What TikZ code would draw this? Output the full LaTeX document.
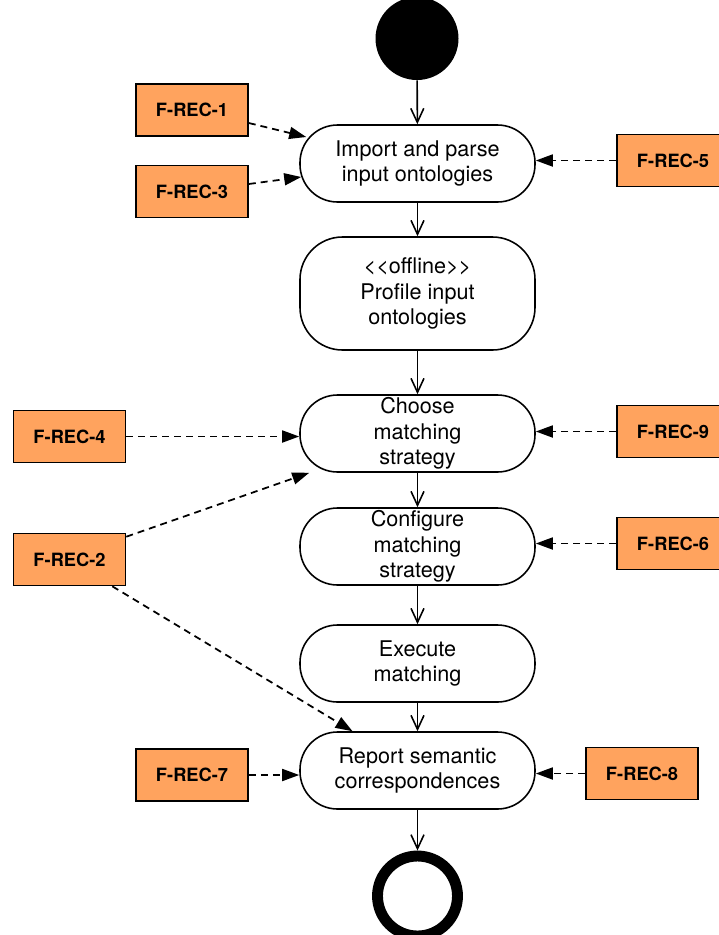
\documentclass[tikz,border=0pt]{standalone}
\usepackage{fontspec}
\setmainfont{TeX Gyre Heros}
\usetikzlibrary{arrows.meta}

\definecolor{reqorange}{RGB}{255,163,94}

\tikzset{
	activity/.style={draw,line width=0.9pt,fill=white,rounded corners=0.75cm,minimum width=4.7cm,minimum height=1.54cm,align=center,inner sep=0pt,font=\fontsize{12.3}{14.4}\selectfont},
	req/.style={draw,line width=0.9pt,fill=reqorange,minimum width=2.24cm,minimum height=1.04cm,inner sep=0pt,font=\fontsize{10.4}{12}\selectfont\bfseries},
	flow/.style={line width=0.9pt,-{Straight Barb[length=2.8mm,width=2.6mm]}},
	trace/.style={line width=1pt,dash pattern=on 1.4mm off 1mm,-{Triangle[length=3.4mm,width=2.4mm]}}
}

\begin{document}
\begin{tikzpicture}
	\useasboundingbox (0,0) rectangle (14.38,-18.7);

	\node [circle,fill=black,minimum size=1.66cm,inner sep=0pt] (start) at (8.34,-0.77) {};
	\node [activity] (a1) at (8.35,-3.27) {Import and parse\\input ontologies};
	\node [activity,minimum height=2.26cm,rounded corners=0.85cm] (a2) at (8.35,-5.87) {{<}{<}offline{>}{>}\\Profile input\\ontologies};
	\node [activity] (a3) at (8.35,-8.67) {Choose\\matching\\strategy};
	\node [activity] (a4) at (8.35,-10.93) {Configure\\matching\\strategy};
	\node [activity] (a5) at (8.35,-13.27) {Execute\\matching};
	\node [activity] (a6) at (8.35,-15.41) {Report semantic\\correspondences};
	\node [circle,draw,line width=6.2pt,minimum size=1.6cm,inner sep=0pt] (stop) at (8.35,-17.92) {};

	\node [req] (r1) at (3.84,-2.20) {F-REC-1};
	\node [req] (r3) at (3.84,-3.83) {F-REC-3};
	\node [req] (r5) at (13.46,-3.21) {F-REC-5};
	\node [req] (r4) at (1.39,-8.73) {F-REC-4};
	\node [req] (r2) at (1.39,-11.19) {F-REC-2};
	\node [req] (r9) at (13.46,-8.63) {F-REC-9};
	\node [req] (r6) at (13.46,-10.87) {F-REC-6};
	\node [req] (r7) at (3.84,-15.50) {F-REC-7};
	\node [req] (r8) at (12.84,-15.47) {F-REC-8};

	\draw [flow] (start) -- (a1);
	\draw [flow] (a1) -- (a2);
	\draw [flow] (a2) -- (a3);
	\draw [flow] (a3) -- (a4);
	\draw [flow] (a4) -- (a5);
	\draw [flow] (a5) -- (a6);
	\draw [flow] (a6) -- (stop.north);

	\draw [trace] ([yshift=-0.26cm]r1.east) -- ([xshift=0.14cm,yshift=0.53cm]a1.west);
	\draw [trace] ([yshift=0.15cm]r3.east) -- ([xshift=0.04cm,yshift=-0.27cm]a1.west);
	\draw [trace] (r5.west) -- (r5.west -| a1.east);
	\draw [trace] (r4.east) -- (r4.east -| a3.west);
	\draw [trace] (r9.west) -- (r9.west -| a3.east);
	\draw [trace] ([yshift=-0.08cm]r2.north east) -- ([xshift=0.2cm]a3.south west);
	\draw [trace] ([xshift=-0.28cm]r2.south east) -- ([xshift=-1.3cm]a6.north);
	\draw [trace] (r6.west) -- (r6.west -| a4.east);
	\draw [trace] (r7.east) -- (r7.east -| a6.west);
	\draw [trace] (r8.west) -- (r8.west -| a6.east);
\end{tikzpicture}
\end{document}
